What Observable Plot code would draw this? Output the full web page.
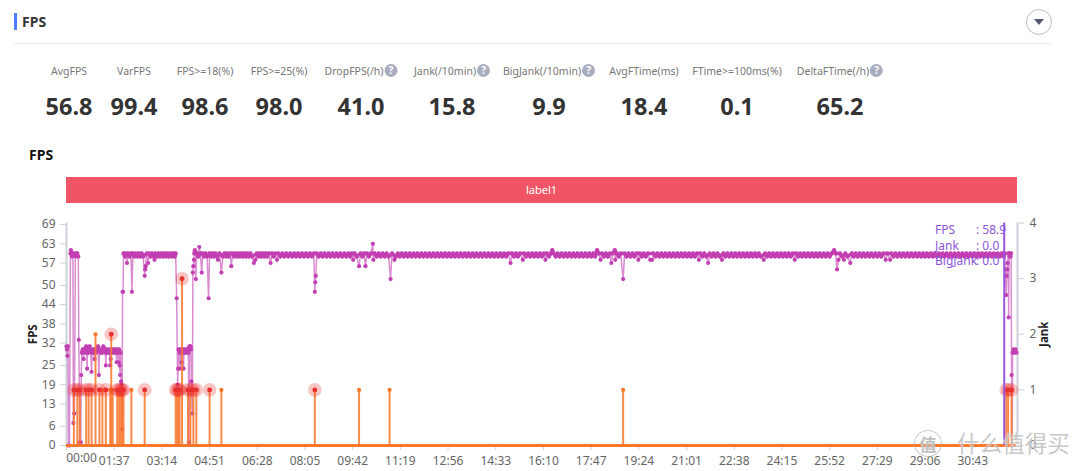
<!DOCTYPE html>
<html><head><meta charset="utf-8">
<script src="https://cdn.jsdelivr.net/npm/d3@7"></script>
<script src="https://cdn.jsdelivr.net/npm/@observablehq/plot@0.6"></script>
<style>
html,body{margin:0;padding:0;background:#fff;width:1080px;height:471px;overflow:hidden;font-family:"Noto Sans","Open Sans",sans-serif}
.a{position:absolute;white-space:nowrap}
.m{transform:translateX(-50%);font-size:10.5px;color:#777;top:63px;line-height:16px}
.v{transform:translateX(-50%);font-size:23.5px;font-weight:700;color:#333;top:90px;line-height:32px}
.q{display:inline-block;width:13px;height:13px;border-radius:50%;background:#a9adc0;color:#fff;font-size:10px;font-weight:700;line-height:13px;text-align:center;margin-left:1px;vertical-align:1px}
.t{color:#8c55d8;font-size:12px;left:935px;line-height:15px}
.t span{display:inline-block;width:41px}
#chart{position:absolute;left:0;top:210px}
#chart svg{display:block}
[aria-label="y-axis label"] text{font-weight:700;fill:#222;font-size:11.5px}
</style></head><body>
<div class="a" style="left:14px;top:13px;width:3px;height:17px;background:#4f7cff"></div>
<div class="a" style="left:22px;top:12px;font-size:14px;font-weight:700;color:#333;line-height:20px">FPS</div>
<div class="a" style="left:14px;top:43px;width:1037px;height:1px;background:#e8e8f1"></div>
<div class="a" style="left:1026px;top:9px;width:24px;height:24px;border:1px solid #b9bdcc;border-radius:50%"></div>
<div class="a" style="left:1034px;top:19px;border-left:5px solid transparent;border-right:5px solid transparent;border-top:6px solid #555a70"></div>
<div id="metrics"></div>
<div class="a" style="left:29px;top:145px;font-size:14px;font-weight:700;color:#111;line-height:20px">FPS</div>
<div class="a" style="left:66px;top:177px;width:951px;height:26px;background:#ef5565;color:#fff;font-size:11px;line-height:26px;text-align:center">label1</div>
<div id="chart"></div>
<div class="a t" style="top:222px"><span>FPS</span>: 58.9</div>
<div class="a t" style="top:238px"><span>Jank</span>: 0.0</div>
<div class="a t" style="top:253px"><span>BigJank</span>: 0.0</div>
<div class="a" style="left:914px;top:430px;width:26px;height:25px;border:1px solid rgba(170,170,170,.6);border-radius:50%;text-align:center;font:700 17px/25px 'Noto Sans CJK SC';color:rgba(170,170,170,.75);text-shadow:0 0 1px #fff">值</div>
<div class="a" style="left:957px;top:430px;font:400 22.6px/25px 'Noto Sans CJK SC';color:rgba(175,175,175,.7);text-shadow:0 0 2px #fff">什么值得买</div>
<script>
const metricNames = ["AvgFPS","VarFPS","FPS>=18(%)","FPS>=25(%)","DropFPS(/h)","Jank(/10min)","BigJank(/10min)","AvgFTime(ms)","FTime>=100ms(%)","DeltaFTime(/h)"];
const metricValues = ["56.8","99.4","98.6","98.0","41.0","15.8","9.9","18.4","0.1","65.2"];
const metricHelp = [0,0,0,0,1,1,1,0,0,1];

const fpsTicks = [0,6,13,19,25,32,38,44,50,57,63,69];
const jankTicks = [0,1,2,3,4];
const timeTickLabels = ["00:00","01:37","03:14","04:51","06:28","08:05","09:42","11:19","12:56","14:33","16:10","17:47","19:24","21:01","22:38","24:15","25:52","27:29","29:06","30:43"];

// FPS readings as [seconds, fps], section by section
const fpsOpening = [[0,31],[1,30],[2,28],[3,31],[4,0],[6,0],[8,60],[9,61],[10,60],[11,59],[12,60],[13,60],[14,7],[16,10],[18,60],[19,59],[20,60],[22,60],[24,59],[25,33],[27,1],[29,1],[30,22]];
const fpsLowFirst = [[31,29],[33,30],[35,27],[36,30],[38,29],[40,31],[41,29],[42,24],[43,30],[45,29],[47,31],[49,30],[51,23],[52,29],[54,30],[56,29],[57,27],[58,30],[60,29],[62,30],[64,31],[66,22],[67,30],[69,29],[71,30],[73,29],[75,31],[77,30],[79,29],[80,25],[81,30],[83,29],[85,30],[87,29],[89,25],[90,27],[91,30],[93,29],[95,30],[97,29],[99,30],[101,29],[102,26],[103,30],[105,29],[106,26],[107,30],[108,25],[109,22],[110,29],[111,20],[112,19],[113,5],[114,48]];
const fpsHighFirst = [[115,48],[116,60],[119,59],[121,60],[123,57],[125,60],[128,59],[131,60],[133,48],[135,60],[138,59],[141,60],[144,59],[147,60],[150,59],[153,60],[156,59],[159,53],[160,55],[161,56],[163,60],[166,57],[168,60],[171,59],[174,60],[177,59],[179,58],[181,60],[184,59],[187,60],[190,59],[193,60],[196,59],[199,60],[202,59],[205,60],[208,59],[211,60],[214,59],[217,60],[220,59],[222,60]];
const fpsLowSecond = [[224,46],[226,19],[227,24],[228,30],[230,29],[231,24],[232,30],[234,26],[235,30],[237,29],[238,24],[239,30],[241,29],[243,30],[245,29],[247,30],[248,29],[249,1],[250,31],[252,31],[253,30],[254,20],[256,10]];
const fpsHighSecond = [[257,54],[258,56],[259,58],[260,60],[261,61],[263,52],[265,60],[268,59],[270,62],[272,60],[275,54],[277,60],[280,59],[283,60],[286,59],[289,46],[291,60],[294,59],[297,60],[300,59],[303,60],[306,59],[308,58],[311,60],[315,54],[318,59],[321,60],[324,59],[327,60],[330,59],[333,60],[335,56],[338,60],[341,59],[344,60],[347,59],[350,60],[353,59],[356,60],[359,59],[362,60],[365,59],[368,60],[371,59],[374,60],[377,59],[381,57],[384,58],[387,60],[390,59],[393,60],[396,59],[399,60],[402,59],[405,60],[408,59],[411,60],[415,57],[418,60],[421,59],[424,60],[428,58],[431,60],[435,59],[439,60],[443,59],[447,60],[451,59],[455,60],[459,59],[463,60],[467,59],[471,60],[475,59],[479,60],[483,59],[487,60],[491,59],[495,60],[499,59],[503,60],[505,48],[506,51],[507,53],[509,60],[513,59],[517,60],[521,59],[525,60],[529,59],[533,60],[537,59],[541,60],[545,59],[549,60],[553,59],[557,60],[561,59],[565,60],[569,59],[573,60],[577,59],[580,60],[583,58],[586,60],[590,59],[595,56],[598,60],[602,59],[605,60],[608,56],[611,60],[615,59],[619,60],[623,63],[624,58],[627,60],[631,59],[635,60],[639,59],[643,60],[647,59],[651,60],[655,59],[659,52],[662,60],[667,58],[670,59],[674,60],[678,59],[682,60],[686,59],[690,60],[694,59],[698,60],[702,59],[706,60],[710,59],[714,60],[718,59],[722,60],[726,59],[730,60],[734,59],[738,60],[742,59],[746,60],[750,59],[754,60],[758,59],[762,60],[766,59],[770,60],[774,59],[778,60],[782,59],[786,60],[790,59],[794,60],[798,59],[802,60],[806,59],[810,60],[814,59],[818,60],[822,59],[826,60],[830,59],[834,60],[838,59],[842,60],[846,59],[850,60],[854,59],[858,60],[862,59],[866,60],[870,59],[874,60],[878,59],[882,60],[886,59],[890,60],[894,59],[898,60],[903,57],[906,60],[910,59],[914,60],[918,59],[922,60],[928,58],[931,60],[935,59],[939,60],[943,59],[947,60],[951,59],[955,60],[959,59],[963,60],[967,59],[971,60],[974,58],[977,60],[981,59],[985,60],[988,61],[991,60],[995,59],[999,60],[1003,59],[1007,60],[1011,59],[1015,60],[1019,59],[1023,60],[1027,59],[1031,60],[1035,59],[1039,60],[1043,59],[1047,60],[1051,59],[1055,60],[1059,59],[1063,60],[1067,59],[1071,60],[1075,59],[1079,61],[1082,60],[1086,58],[1089,60],[1093,59],[1097,60],[1101,59],[1105,60],[1108,57],[1111,60],[1115,61],[1116,58],[1119,60],[1123,59],[1127,60],[1132,52],[1135,60],[1139,59],[1143,60],[1147,59],[1151,60],[1155,59],[1159,60],[1163,58],[1166,60],[1170,59],[1174,60],[1178,59],[1182,60],[1187,58],[1191,58],[1194,60],[1198,59],[1202,60],[1206,59],[1210,60],[1214,59],[1218,60],[1222,59],[1226,60],[1230,59],[1234,60],[1238,59],[1242,60],[1246,59],[1250,60],[1254,59],[1258,60],[1262,59],[1266,60],[1270,59],[1274,60],[1278,59],[1282,60],[1286,58],[1289,60],[1293,59],[1297,60],[1301,59],[1305,57],[1308,60],[1312,59],[1316,60],[1320,59],[1324,60],[1328,59],[1333,58],[1336,60],[1340,59],[1344,60],[1348,59],[1352,60],[1356,59],[1360,60],[1364,59],[1368,60],[1372,59],[1376,60],[1380,59],[1384,60],[1388,59],[1392,60],[1396,59],[1400,60],[1404,59],[1408,60],[1412,59],[1418,58],[1421,60],[1425,59],[1429,60],[1433,59],[1437,60],[1441,59],[1445,60],[1449,59],[1453,60],[1457,59],[1461,60],[1465,59],[1469,60],[1473,59],[1477,60],[1481,58],[1484,60],[1488,59],[1492,60],[1496,59],[1500,60],[1504,59],[1508,60],[1512,59],[1516,60],[1520,59],[1524,60],[1528,59],[1532,60],[1536,59],[1540,60],[1544,59],[1548,60],[1552,59],[1556,60],[1561,61],[1564,60],[1567,55],[1570,58],[1573,60],[1577,59],[1581,58],[1584,60],[1588,59],[1594,57],[1597,60],[1601,59],[1605,60],[1609,59],[1613,60],[1617,59],[1621,60],[1625,59],[1629,60],[1633,59],[1637,60],[1641,59],[1645,60],[1649,59],[1653,60],[1657,59],[1661,60],[1666,58],[1669,60],[1675,58],[1678,60],[1682,59],[1686,60],[1690,59],[1694,60],[1698,59],[1702,60],[1706,59],[1710,60],[1714,59],[1718,60],[1722,59],[1726,60],[1730,59],[1734,60],[1738,59],[1742,60],[1746,59],[1750,60],[1754,59],[1758,60],[1762,59],[1766,60],[1770,59],[1774,60],[1778,59],[1782,60],[1786,59],[1790,60],[1794,59],[1798,60],[1802,59],[1806,60],[1810,59],[1814,60],[1818,59],[1822,60],[1826,59],[1830,60],[1834,59],[1838,60],[1842,59],[1846,60],[1850,59],[1854,60],[1858,59],[1862,60],[1866,59],[1870,60],[1874,59],[1878,60],[1882,59],[1886,60],[1890,59],[1894,60],[1898,59],[1902,60],[1906,59],[1908,60]];
const fpsClosing = [[1911,47],[1912,53],[1913,55],[1914,57],[1915,60],[1916,40],[1917,60],[1918,59],[1919,60],[1920,59],[1921,60],[1922,22],[1923,0],[1924,29],[1926,30],[1928,29],[1930,30],[1932,29]];

const jankTimes = [15,22,27,40,45,51,59,67,73,80,89,91,94,103,107,110,113,116,132,159,222,225,228,230,235,247,252,258,264,291,315,505,595,657,1132,1911,1915,1922];
const jankCounts = [1,1,1,1,1,1,2,1,1,1,1,2,1,1,1,1,1,1,1,1,1,1,1,1,3,1,1,1,1,1,1,1,1,1,1,1,1,1];
const bigJankFlags = [1,1,1,1,1,1,0,1,0,1,0,1,0,1,1,1,1,1,0,1,1,1,1,1,1,1,1,1,1,1,0,1,0,0,0,1,1,1];

const cursorTime = [1907];
const timeMax = 1934, dataEnd = 1932;
const fpsMax = 69.5, perJank = fpsMax / 4;

document.getElementById("metrics").innerHTML = metricNames.map((n,i)=>{
  const c=[69,134,205,279,361,452,549,644,737,840][i];
  return `<div class="a m" style="left:${c}px">${n.replace(/>/,"&gt;")}${metricHelp[i]?'<span class="q">?</span>':''}</div><div class="a v" style="left:${c}px">${metricValues[i]}</div>`;
}).join("");

const fps = [...fpsOpening,...fpsLowFirst,...fpsHighFirst,...fpsLowSecond,...fpsHighSecond,...fpsClosing].map(([t,v])=>({t,v}));
// the solid plateau bands: same readings, with the dips left out
const band = (section,lo,id)=>section.filter(d=>d[1]>=lo && d[1]<=lo+2).map(([t,v])=>({t,v,id}));
const bands = [...band(fpsLowFirst,29,"a"),...band(fpsHighFirst,59,"b"),...band(fpsLowSecond,29,"c"),...band(fpsHighSecond,59,"d")];
const jank = jankTimes.map((t,i)=>({t,v:jankCounts[i]*perJank,big:bigJankFlags[i]}));
const big = jank.filter(d=>d.big);
const timeTicks = timeTickLabels.map((_,i)=>i*97);

const PURPLE="#c23fb2", ORANGE="#f9762a", RED="#e8302f", AXIS="#cdd1d9", TXT="#666";
const chart = Plot.plot({
  width:1080,height:261,marginTop:12.5,marginBottom:26,marginLeft:66,marginRight:63,
  style:{fontFamily:"'Noto Sans',sans-serif",fontSize:"12px",background:"transparent",overflow:"visible"},
  x:{domain:[0,timeMax],axis:null},
  y:{domain:[0,fpsMax],axis:null},
  marks:[
    Plot.ruleX([0,timeMax],{stroke:AXIS,strokeWidth:2}),
    Plot.axisX({anchor:"bottom",ticks:timeTicks,tickSize:5,tickPadding:6,stroke:AXIS,fill:TXT,label:null,
      tickFormat:(d,i)=>i===0?"":timeTickLabels[i]}),
    Plot.text([0],{x:d=>d,frameAnchor:"bottom",dx:15,dy:16,text:()=>timeTickLabels[0],fill:TXT}),
    Plot.axisY({anchor:"left",ticks:fpsTicks,tickSize:6,tickPadding:5,stroke:AXIS,fill:TXT,label:"FPS",labelAnchor:"center",labelOffset:38,labelArrow:"none"}),
    Plot.axisY({anchor:"right",ticks:jankTicks.map(d=>d*perJank),tickFormat:d=>String(Math.round(d/perJank)),tickSize:6,tickPadding:6,stroke:AXIS,fill:TXT,label:"Jank",labelAnchor:"center",labelOffset:30,labelArrow:"none"}),
    Plot.line(fps,{x:"t",y:"v",stroke:PURPLE,strokeWidth:1.5,strokeOpacity:.6,curve:"linear"}),
    Plot.line(bands,{x:"t",y:"v",z:"id",stroke:PURPLE,strokeWidth:3.5,curve:"linear"}),
    Plot.dot(fps,{x:"t",y:"v",r:2.1,fill:PURPLE,stroke:"none"}),
    Plot.ruleX(jank,{x:"t",y1:0,y2:"v",stroke:ORANGE,strokeWidth:2,strokeOpacity:.85}),
    Plot.ruleY([0],{x1:0,x2:dataEnd,stroke:ORANGE,strokeWidth:3}),
    Plot.dot(jank,{x:"t",y:"v",r:2.1,fill:ORANGE,stroke:"none"}),
    Plot.dot(big,{x:"t",y:"v",r:6.8,fill:RED,fillOpacity:.28,stroke:"none"}),
    Plot.dot(big,{x:"t",y:"v",r:2.4,fill:RED,stroke:"none"}),
    Plot.ruleX(cursorTime,{y1:0,y2:fpsMax,stroke:"#9a55d8",strokeWidth:2})
  ]
});
document.getElementById("chart").appendChild(chart);
</script></body></html>
